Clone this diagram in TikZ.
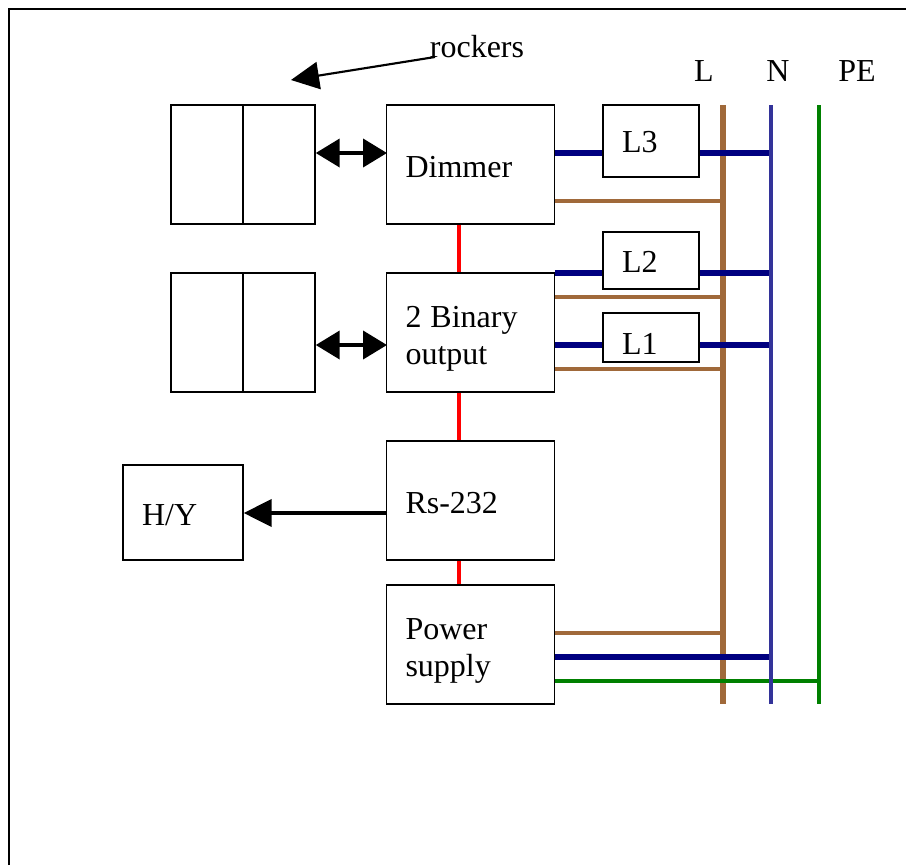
\documentclass[tikz,border=0pt]{standalone}
\usepackage{fontspec}
\setmainfont{Liberation Serif}
\usepackage{xcolor}
\usetikzlibrary{arrows.meta}
\definecolor{busbrown}{RGB}{160,105,58}
\definecolor{busblue}{RGB}{51,51,153}
\definecolor{tapnavy}{RGB}{0,0,128}
\definecolor{busgreen}{RGB}{0,128,0}
\newcommand{\dropped}[2]{\raisebox{-#1}[\height][\depth]{#2}}
\tikzset{
  bigbox/.style={draw,line width=1.1pt,inner xsep=14.25pt,inner ysep=0pt,text width=97.5pt,align=left,minimum width=126pt,minimum height=89.25pt},
  halfbox/.style={draw,line width=1.1pt,minimum width=54pt,minimum height=89.25pt},
  loadbox/.style={draw,line width=1.1pt,inner xsep=14.25pt,inner ysep=0pt,text width=43.5pt,align=left,minimum width=72pt},
  brownline/.style={busbrown,line width=3pt},
  navyline/.style={tapnavy,line width=3.8pt},
  redline/.style={red,line width=3pt},
  dblarrow/.style={{Triangle[length=18pt,width=21pt]}-{Triangle[length=18pt,width=21pt]},line width=3pt},
  onearrow/.style={-{Triangle[length=21pt,width=20.5pt]},line width=2.3pt}
}
\begin{document}
\begin{tikzpicture}[x=0.75pt,y=-0.75pt,font=\fontsize{24}{27.75}\selectfont]
  \useasboundingbox (0,0) rectangle (906,865);
  \coordinate (frameA) at (9,865);
  \coordinate (frameB) at (9,9);
  \coordinate (frameC) at (906,9);
  \draw[line width=1.3pt] (frameA)--(frameB)--(frameC);
  % Rockers
  \node[halfbox] (rockA) at (207,164.5){};
  \node[halfbox] (rockB) at (279,164.5){};
  \node[halfbox] (rockC) at (207,332.5){};
  \node[halfbox] (rockD) at (279,332.5){};
  % Units
  \node[bigbox] (dimmer) at (470.5,164.5){\dropped{2.25pt}{Dimmer}};
  \node[bigbox] (binary) at (470.5,332.5){\dropped{4.5pt}{2\hspace{6.75pt}Binary}\\\dropped{4.5pt}{output}};
  \node[bigbox] (rs) at (470.5,500.5){\dropped{2.25pt}{Rs-232}};
  \node[bigbox] (power) at (470.5,644.5){\dropped{4.5pt}{Power}\\\dropped{4.5pt}{supply}};
  \node[draw,line width=1.1pt,inner xsep=14.25pt,inner ysep=0pt,text width=61.5pt,align=left,minimum width=90pt,minimum height=71.25pt] (hy) at (183,512.5){\dropped{2.25pt}{H/Y}};
  % Loads
  \node[loadbox,minimum height=54pt] (lthree) at (651,141){\dropped{0.75pt}{L3}};
  \node[loadbox,minimum height=42.75pt] (ltwo) at (651,260.5){\dropped{0.75pt}{L2}};
  \node[loadbox,minimum height=36.75pt] (lone) at (651,337.5){\dropped{4.5pt}{L1}};
  % Bus labels
  \node[inner sep=0pt] (busL) at (704,71){L};
  \node[inner sep=0pt] (busN) at (778,71){N};
  \node[inner sep=0pt] (busPE) at (857,71){PE};
  \node[inner sep=0pt] (rockers) at (477,47){rockers};
  % Bus ends
  \coordinate (Ltop) at (723,105);
  \coordinate (Lbot) at (723,704);
  \coordinate (Ntop) at (771,105);
  \coordinate (Nbot) at (771,704);
  \coordinate (PEtop) at (819,105);
  \coordinate (PEbot) at (819,704);
  \draw[brownline,line width=3.8pt] (Ltop)--(Lbot);
  % Taps on the buses
  \foreach \tapname/\tapy in {brA/201,brB/297,brC/369,brD/633}
    \coordinate (\tapname) at (723,\tapy);
  \foreach \tapname/\tapy in {nA/153,nB/273,nC/345,nD/657}
    \coordinate (\tapname) at (771,\tapy);
  \coordinate (peA) at (819,681);
  % Brown tails
  \draw[brownline] (dimmer.east |- brA)--(brA);
  \draw[brownline] (binary.east |- brB)--(brB);
  \draw[brownline] (binary.east |- brC)--(brC);
  \draw[brownline] (power.east |- brD)--(brD);
  % Navy tails
  \draw[navyline] (dimmer.east |- nA)--(lthree.west |- nA);
  \draw[navyline] (lthree.east |- nA)--(nA);
  \draw[navyline] (binary.east |- nB)--(ltwo.west |- nB);
  \draw[navyline] (ltwo.east |- nB)--(nB);
  \draw[navyline] (binary.east |- nC)--(lone.west |- nC);
  \draw[navyline] (lone.east |- nC)--(nC);
  \draw[navyline] (power.east |- nD)--(nD);
  \draw[busgreen,line width=3pt] (power.east |- peA)--(peA);
  \draw[busblue,line width=3.4pt] (Ntop)--(Nbot);
  \draw[busgreen,line width=3pt] (PEtop)--(PEbot);
  % Red links
  \coordinate (redx) at (459,0);
  \draw[redline] (dimmer.south -| redx)--(binary.north -| redx);
  \draw[redline] (binary.south -| redx)--(rs.north -| redx);
  \draw[redline] (rs.south -| redx)--(power.north -| redx);
  % Arrows
  \coordinate (rockTail) at (435,57);
  \coordinate (rockTip) at (291,80);
  \coordinate (armA) at (387,153);
  \coordinate (armB) at (387,345);
  \coordinate (armC) at (387,513);
  \draw[dblarrow] (rockB.east |- armA)--(armA);
  \draw[dblarrow] (rockD.east |- armB)--(armB);
  \draw[onearrow] (armC)--(hy.east |- armC);
  \draw[onearrow,line width=1.6pt] (rockTail)--(rockTip);
\end{tikzpicture}
\end{document}
